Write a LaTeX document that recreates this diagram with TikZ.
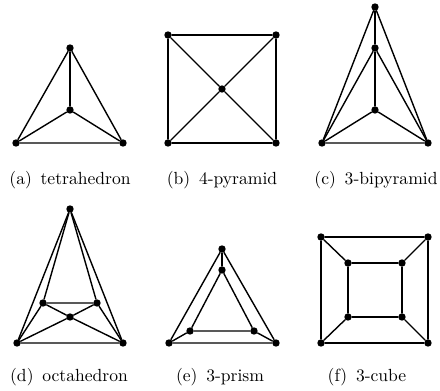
\documentclass[tikz,border=0pt]{standalone}
\usepackage{tikz}

\begin{document}
\begin{tikzpicture}[
      % un'unita = un pixel del riferimento, asse y verso il basso
      x={(0.02cm,0cm)},
      y={(0cm,-0.02cm)},
      line join=round,
      line cap=round
  ]

  \tikzset{
      vertex/.style={circle, fill=black, inner sep=0pt, minimum size=4.2pt},
      edge/.style={draw=black, line width=0.8pt},
      caption/.style={anchor=base, font=\normalsize}
  }

  \useasboundingbox (0,0) rectangle (440,391);

  % 1. (a) tetraedro
  \node[vertex] (aT) at (70,48) {};
  \node[vertex] (aC) at (70,110) {};
  \node[vertex] (aL) at (16,143) {};
  \node[vertex] (aR) at (123,143) {};
  \draw[edge] (aT) -- (aC);
  \draw[edge] (aT) -- (aL) -- (aR) -- (aT);
  \draw[edge] (aC) -- (aL);
  \draw[edge] (aC) -- (aR);
  \node[caption] (capa) at (70,185) {(a)\hspace{5pt}tetrahedron};

  % 2. (b) piramide quadrata
  \node[vertex] (bTL) at (168,35) {};
  \node[vertex] (bTR) at (276,35) {};
  \node[vertex] (bC) at (222,89) {};
  \node[vertex] (bBL) at (168,143) {};
  \node[vertex] (bBR) at (276,143) {};
  \draw[edge] (bTL) -- (bTR) -- (bBR) -- (bBL) -- (bTL);
  \draw[edge] (bC) -- (bTL);
  \draw[edge] (bC) -- (bTR);
  \draw[edge] (bC) -- (bBL);
  \draw[edge] (bC) -- (bBR);
  \node[caption] (capb) at (222,185) {(b)\hspace{5pt}4-pyramid};

  % 3. (c) bipiramide triangolare
  \node[vertex] (cT) at (375,7) {};
  \node[vertex] (cM) at (375,48) {};
  \node[vertex] (cC) at (375,110) {};
  \node[vertex] (cL) at (322,143) {};
  \node[vertex] (cR) at (428,143) {};
  \draw[edge] (cT) -- (cM) -- (cC);
  \draw[edge] (cT) -- (cL) -- (cR) -- (cT);
  \draw[edge] (cM) -- (cL);
  \draw[edge] (cM) -- (cR);
  \draw[edge] (cC) -- (cL);
  \draw[edge] (cC) -- (cR);
  \node[caption] (capc) at (376,185) {(c)\hspace{5pt}3-bipyramid};

  % 4. (d) ottaedro
  \node[vertex] (dT) at (70,209) {};
  \node[vertex] (dL) at (43,303) {};
  \node[vertex] (dR) at (97,303) {};
  \node[vertex] (dC) at (70,317) {};
  \node[vertex] (dBL) at (17,343) {};
  \node[vertex] (dBR) at (123,343) {};
  \draw[edge] (dT) -- (dBL) -- (dBR) -- (dT);
  \draw[edge] (dT) -- (dL) -- (dR) -- (dT);
  \draw[edge] (dL) -- (dC) -- (dR);
  \draw[edge] (dL) -- (dBL);
  \draw[edge] (dR) -- (dBR);
  \draw[edge] (dC) -- (dBL);
  \draw[edge] (dC) -- (dBR);
  \node[caption] (capd) at (69,382) {(d)\hspace{5pt}octahedron};

  % 5. (e) prisma triangolare
  \node[vertex] (eT) at (222,249) {};
  \node[vertex] (eIT) at (222,270) {};
  \node[vertex] (eIL) at (190,331) {};
  \node[vertex] (eIR) at (254,331) {};
  \node[vertex] (eL) at (169,343) {};
  \node[vertex] (eR) at (276,343) {};
  \draw[edge] (eT) -- (eL) -- (eR) -- (eT);
  \draw[edge] (eIT) -- (eIL) -- (eIR) -- (eIT);
  \draw[edge] (eT) -- (eIT);
  \draw[edge] (eL) -- (eIL);
  \draw[edge] (eR) -- (eIR);
  \node[caption] (cape) at (220,382) {(e)\hspace{5pt}3-prism};

  % 6. (f) cubo
  \node[vertex] (fTL) at (321,237) {};
  \node[vertex] (fTR) at (428,237) {};
  \node[vertex] (fBR) at (428,343) {};
  \node[vertex] (fBL) at (321,343) {};
  \node[vertex] (fiTL) at (348,263) {};
  \node[vertex] (fiTR) at (402,263) {};
  \node[vertex] (fiBR) at (402,317) {};
  \node[vertex] (fiBL) at (348,317) {};
  \draw[edge] (fTL) -- (fTR) -- (fBR) -- (fBL) -- (fTL);
  \draw[edge] (fiTL) -- (fiTR) -- (fiBR) -- (fiBL) -- (fiTL);
  \draw[edge] (fTL) -- (fiTL);
  \draw[edge] (fTR) -- (fiTR);
  \draw[edge] (fBR) -- (fiBR);
  \draw[edge] (fBL) -- (fiBL);
  \node[caption] (capf) at (367,382) {(f)\hspace{5pt}3-cube};

\end{tikzpicture}
\end{document}
